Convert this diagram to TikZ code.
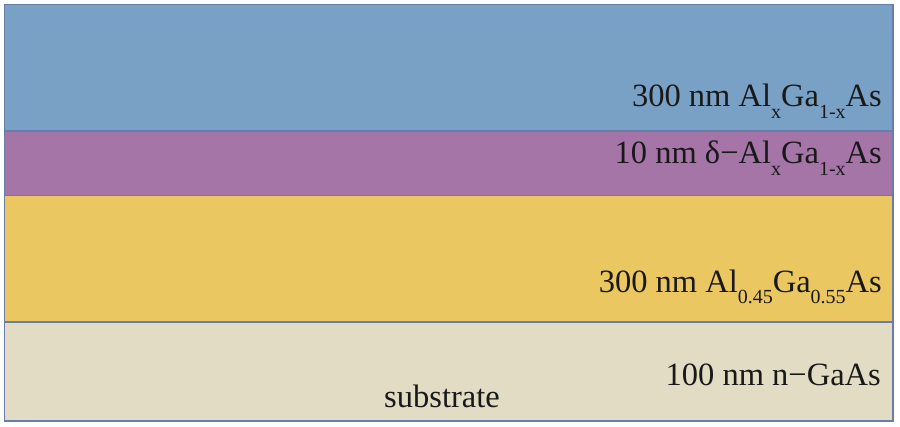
\documentclass[tikz,border=0pt]{standalone}
\usepackage{fontspec}
\setmainfont{Liberation Serif}
\definecolor{layerblue}{RGB}{121,161,198}
\definecolor{layerpurple}{RGB}{165,117,167}
\definecolor{layeryellow}{RGB}{234,199,96}
\definecolor{layerbeige}{RGB}{226,220,197}
\definecolor{edgeblue}{RGB}{105,125,170}
\newcommand\lowsub[1]{\raisebox{-11.5pt}{\fontsize{20}{20}\selectfont #1}}
\tikzset{
  layer/.style={draw=edgeblue, line width=1.4pt},
  lab/.style={anchor=base east, inner sep=0pt, font=\fontsize{32.5}{36}\selectfont, text=black!90}
}
\begin{document}
\begin{tikzpicture}[x=1pt,y=-1pt]
\useasboundingbox (0,0) rectangle (900,427);
\fill[white] (0,0) rectangle (900,427);
\path[layer, fill=layerblue] (4.5,4.5) rectangle (893,131);
\path[layer, fill=layerpurple] (4.5,131) rectangle (893,195.5);
\path[layer, fill=layeryellow] (4.5,195.5) rectangle (893,322);
\path[layer, fill=layerbeige] (4.5,322) rectangle (893,421);
\node[lab] (t1) at (882,107) {300 nm Al\lowsub{x}Ga\lowsub{1-x}As};
\node[lab] (t2) at (882,164) {10 nm δ−Al\lowsub{x}Ga\lowsub{1-x}As};
\node[lab] (t3) at (882,292.5) {300 nm Al\lowsub{0.45}Ga\lowsub{0.55}As};
\node[lab] (t4) at (881,386) {100 nm n−GaAs};
\node[lab, anchor=base] (t5) at (442,408) {substrate};
\end{tikzpicture}
\end{document}
